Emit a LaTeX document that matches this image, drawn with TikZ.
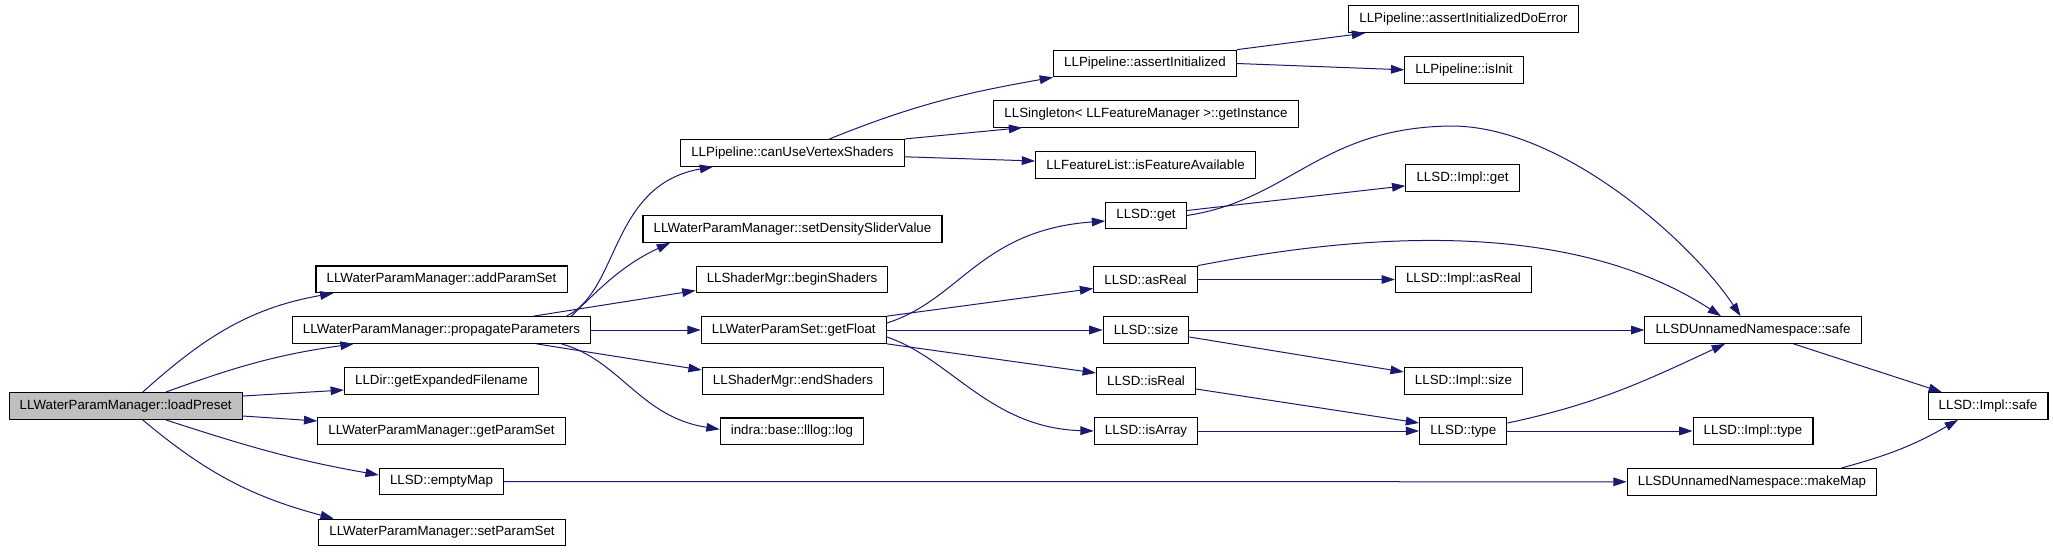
\documentclass[tikz,border=0pt]{standalone}
\usepackage{fontspec}
\setmainfont{Liberation Sans}
\usetikzlibrary{arrows.meta,calc}
\definecolor{edgeblue}{HTML}{191970}

\begin{document}
\begin{tikzpicture}[x=0.75pt,y=0.75pt,
		fn/.style={draw, rectangle, line width=0.8pt, inner xsep=8pt, inner ysep=2pt, minimum height=20pt, font=\fontsize{10}{12}\selectfont},
		call/.style={draw=edgeblue, line width=0.75pt, -{Triangle[length=10pt,width=6.5pt]}}]
		
		\useasboundingbox (0,0) rectangle (2053,-551);
		
		\node[fn, fill=gray!50] (lp) at (125.7,-406) {LLWaterParamManager::loadPreset};
		
		\node[fn] (aps) at (441.5,-279.3) {LLWaterParamManager::addParamSet};
		\node[fn] (pp) at (441.5,-330) {LLWaterParamManager::propagateParameters};
		\node[fn] (gef) at (441.5,-381) {LLDir::getExpandedFilename};
		\node[fn] (gps) at (441.5,-431) {LLWaterParamManager::getParamSet};
		\node[fn] (em) at (441.5,-481.5) {LLSD::emptyMap};
		\node[fn] (sps) at (442,-532.5) {LLWaterParamManager::setParamSet};
		
		\node[fn] (cuvs) at (792.5,-152.8) {LLPipeline::canUseVertexShaders};
		\node[fn] (sdsv) at (792.5,-229) {LLWaterParamManager::setDensitySliderValue};
		\node[fn] (bs) at (792,-279.5) {LLShaderMgr::beginShaders};
		\node[fn] (gf) at (793.8,-330) {LLWaterParamSet::getFloat};
		\node[fn] (es) at (793,-381) {LLShaderMgr::endShaders};
		\node[fn] (log) at (792,-431.3) {indra::base::lllog::log};
		
		\node[fn] (ai) at (1145,-63.5) {LLPipeline::assertInitialized};
		\node[fn] (gi) at (1146,-113.8) {LLSingleton< LLFeatureManager >::getInstance};
		\node[fn] (ifa) at (1145.5,-165) {LLFeatureList::isFeatureAvailable};
		\node[fn] (get) at (1146,-215.5) {LLSD::get};
		\node[fn] (asr) at (1145.5,-279.5) {LLSD::asReal};
		\node[fn] (size) at (1146,-330) {LLSD::size};
		\node[fn] (isr) at (1146,-381) {LLSD::isReal};
		\node[fn] (isa) at (1146,-431) {LLSD::isArray};
		
		\node[fn] (aide) at (1463.5,-19.2) {LLPipeline::assertInitializedDoError};
		\node[fn] (isinit) at (1464,-69.8) {LLPipeline::isInit};
		\node[fn] (iget) at (1462.5,-177.8) {LLSD::Impl::get};
		\node[fn] (iasr) at (1463.5,-279.5) {LLSD::Impl::asReal};
		\node[fn] (isize) at (1463.5,-381) {LLSD::Impl::size};
		\node[fn] (type) at (1463.3,-431) {LLSD::type};
		
		\node[fn] (safe) at (1753,-330) {LLSDUnnamedNamespace::safe};
		\node[fn] (itype) at (1753,-431) {LLSD::Impl::type};
		\node[fn] (mm) at (1752,-481.8) {LLSDUnnamedNamespace::makeMap};
		
		\node[fn] (isafe) at (1988,-406) {LLSD::Impl::safe};
		
		\draw[call] ($(lp.north)+(17,0)$) to[out=42,in=190] ($(aps.south west)+(18,0)$);
		\draw[call] ($(lp.north)+(40,0)$) to[out=20,in=188] ($(pp.south west)+(62,0)$);
		\draw[call] ($(lp.east)+(0,10)$) -- ($(gef.west)+(0,-9)$);
		\draw[call] ($(lp.east)+(0,-10)$) -- ($(gps.west)+(0,10)$);
		\draw[call] ($(lp.south)+(40,0)$) to[out=-18,in=170] ($(em.west)+(0,6.5)$);
		\draw[call] ($(lp.south)+(17,0)$) to[out=-40,in=165] ($(sps.north west)+(15.6,0)$);
		
		\draw[call] ($(pp.north)+(125,0)$) .. controls (620,-290) and (610,-185) .. ($(cuvs.south west)+(33,0)$);
		\draw[call] ($(pp.north)+(130,0)$) to[out=45,in=205] ($(sdsv.south west)+(27.6,0)$);
		\draw[call] ($(pp.north)+(92,0)$) -- ($(bs.west)+(0,-11)$);
		\draw[call] (pp.east) -- (gf.west);
		\draw[call] ($(pp.south)+(95,0)$) -- ($(es.west)+(0,11)$);
		\draw[call] ($(pp.south)+(120,0)$) .. controls (620,-360) and (640,-417) .. ($(log.west)+(0,2)$);
		
		\draw[call] ($(cuvs.north)+(37,0)$) to[out=22,in=190] (ai.south west);
		\draw[call] (cuvs.north east) -- ($(gi.south west)+(29,0)$);
		\draw[call] ($(cuvs.east)+(0,-4)$) -- ($(ifa.west)+(0,4)$);
		
		\draw[call] (ai.north east) -- ($(aide.south west)+(17,0)$);
		\draw[call] (ai.east) -- (isinit.west);
		
		\draw[call] ($(gf.east)+(0,7)$) .. controls (960,-300) and (980,-230) .. ($(get.west)+(0,-5.5)$);
		\draw[call] (gf.north east) -- ($(asr.west)+(0,-9)$);
		\draw[call] (gf.east) -- (size.west);
		\draw[call] (gf.south east) -- ($(isr.west)+(0,8)$);
		\draw[call] ($(gf.east)+(0,-7)$) .. controls (950,-358) and (990,-428) .. (isa.west);
		
		\draw[call] ($(get.east)+(0,5)$) -- ($(iget.west)+(0,-8)$);
		\draw[call] (get.east) .. controls (1290,-200) and (1320,-128) .. (1450,-126)
			.. controls (1560,-125) and (1690,-240) .. ($(safe.north)+(-12.4,0)$);
		\draw[call] (asr.east) -- (iasr.west);
		\draw[call] (asr.north east) .. controls (1330,-240) and (1558,-210) .. ($(safe.north)+(-32,0)$);
		\draw[call] (size.east) -- (safe.west);
		\draw[call] ($(size.east)+(0,-7)$) -- ($(isize.west)+(0,9)$);
		\draw[call] ($(isr.east)+(0,-8)$) -- ($(type.west)+(0,8)$);
		\draw[call] (isa.east) -- (type.west);
		
		\draw[call] ($(type.east)+(0,8)$) to[out=12,in=205] ($(safe.south)+(-28,0)$);
		\draw[call] (type.east) -- (itype.west);
		\draw[call] (em.east) -- (mm.west);
		
		\draw[call] ($(safe.south)+(40.6,0)$) -- ($(isafe.north west)+(14.4,0)$);
		\draw[call] ($(mm.north)+(89.5,0)$) to[out=15,in=210] ($(isafe.south)+(-30,0)$);
		
\end{tikzpicture}
\end{document}
